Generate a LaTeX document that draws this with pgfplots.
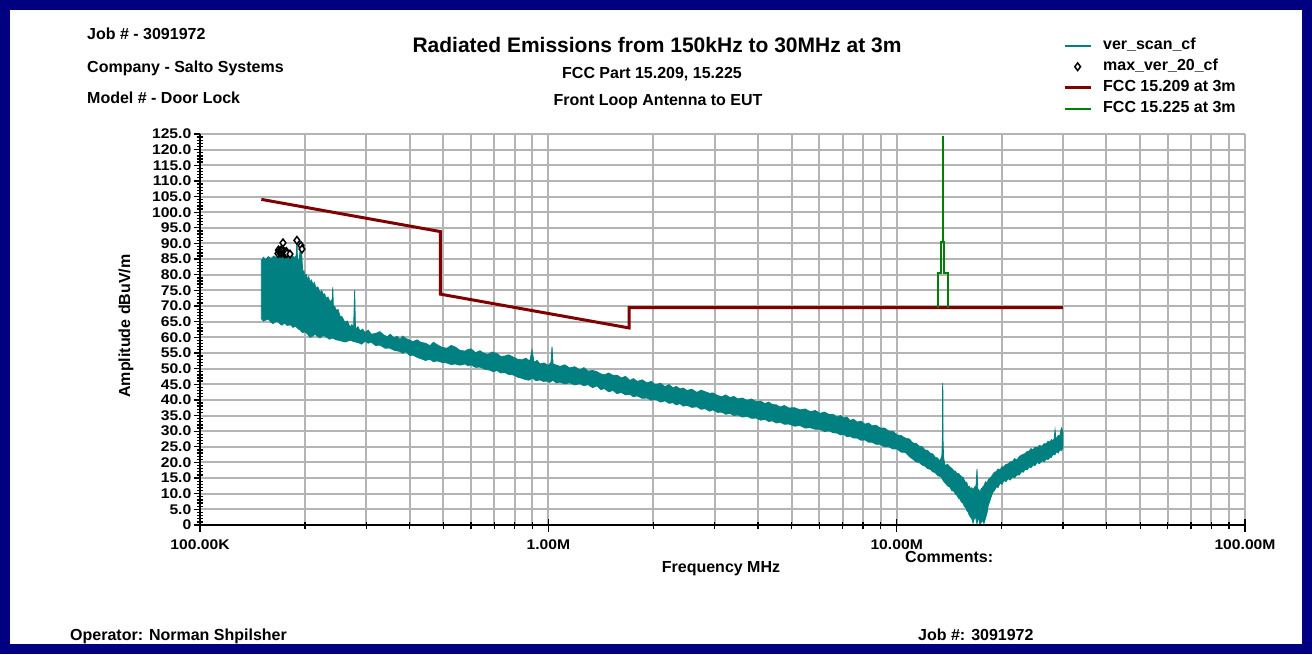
\documentclass[border=0pt]{standalone}
\usepackage{fontspec}
\setmainfont{Liberation Sans}
\newfontfamily\tickf[FakeStretch=1.12]{Liberation Sans}
\usepackage{pgfplots}
\pgfplotsset{compat=1.18}
\definecolor{scanteal}{RGB}{0,128,128}
\definecolor{limred}{RGB}{128,0,0}
\definecolor{limgreen}{RGB}{0,128,0}
\definecolor{framenavy}{RGB}{0,0,128}
\definecolor{gridgray}{RGB}{180,180,180}
\newcommand{\lbl}{\fontsize{16}{18}\selectfont\bfseries}

\begin{document}
\begin{tikzpicture}[x=1pt,y=1pt]
\useasboundingbox (0,0) rectangle (1312,654);
\draw[framenavy, line width=10pt] (5,5) rectangle (1307,649);

% header text
\node[anchor=base west, inner sep=0] at (87,614) {\lbl Job \# - 3091972};
\node[anchor=base west, inner sep=0] at (87,581) {\lbl Company - Salto Systems};
\node[anchor=base west, inner sep=0] at (87,550) {\lbl Model \# - Door Lock};
\node[anchor=base, inner sep=0] at (657,601.5) {\fontsize{21}{24}\selectfont\bfseries Radiated Emissions from 150kHz to 30MHz at 3m};
\node[anchor=base, inner sep=0] at (652,575) {\lbl FCC Part 15.209, 15.225};
\node[anchor=base, inner sep=0] at (658,548) {\lbl Front Loop Antenna to EUT};

\begin{axis}[
    at={(200pt,129pt)}, anchor=south west,
    scale only axis, width=1045pt, height=391pt,
    xmode=log, xmin=0.1, xmax=100, ymin=0, ymax=125,
    axis line style={draw=none},
    xtick pos=left, ytick pos=left,
    xtick={0.1,1,10,100},
    xticklabels={100.00K,1.00M,10.00M,100.00M},
    ytick={0,5,10,15,20,25,30,35,40,45,50,55,60,65,70,75,80,85,90,95,100,105,110,115,120,125},
    yticklabels={0,5.0,10.0,15.0,20.0,25.0,30.0,35.0,40.0,45.0,50.0,55.0,60.0,65.0,70.0,75.0,80.0,85.0,90.0,95.0,100.0,105.0,110.0,115.0,120.0,125.0},
    minor y tick num=4,
    tick align=center,
    major tick length=13pt, minor tick length=7pt,
    tick style={black, line width=1.3pt},
    xmajorgrids=true, xminorgrids=true, ymajorgrids=true,
    major grid style={gridgray, line width=2pt},
    minor grid style={gridgray, line width=2pt},
    tick label style={font=\fontsize{14}{14}\tickf\bfseries},
    yticklabel style={inner sep=1pt, xshift=-1pt},
    xticklabel style={inner sep=1pt, yshift=-7pt},
    legend image code/.code={\draw[mark repeat=2,mark phase=2,#1] plot coordinates {(0pt,0pt) (13pt,0pt) (26pt,0pt)};},
    legend cell align=left,
    legend style={at={(0.8258,1.248)}, anchor=north west, draw=none, fill=none,
        inner sep=0pt, row sep=4pt, column sep=10pt,
        font=\lbl, nodes={inner sep=1pt, text height=11.5pt, text depth=3.5pt}},
    after end axis/.code={
        \draw[black, line width=1.6pt] (rel axis cs:0,1) -- (rel axis cs:0,0) -- (rel axis cs:1,0);
    },
]
% horizontal grid lines every 5 dB (drawn as plain lines below the data)
\addplot[gridgray, line width=2pt, forget plot] coordinates {(0.1,5)(100,5)};
\addplot[gridgray, line width=2pt, forget plot] coordinates {(0.1,10)(100,10)};
\addplot[gridgray, line width=2pt, forget plot] coordinates {(0.1,15)(100,15)};
\addplot[gridgray, line width=2pt, forget plot] coordinates {(0.1,20)(100,20)};
\addplot[gridgray, line width=2pt, forget plot] coordinates {(0.1,25)(100,25)};
\addplot[gridgray, line width=2pt, forget plot] coordinates {(0.1,30)(100,30)};
\addplot[gridgray, line width=2pt, forget plot] coordinates {(0.1,35)(100,35)};
\addplot[gridgray, line width=2pt, forget plot] coordinates {(0.1,40)(100,40)};
\addplot[gridgray, line width=2pt, forget plot] coordinates {(0.1,45)(100,45)};
\addplot[gridgray, line width=2pt, forget plot] coordinates {(0.1,50)(100,50)};
\addplot[gridgray, line width=2pt, forget plot] coordinates {(0.1,55)(100,55)};
\addplot[gridgray, line width=2pt, forget plot] coordinates {(0.1,60)(100,60)};
\addplot[gridgray, line width=2pt, forget plot] coordinates {(0.1,65)(100,65)};
\addplot[gridgray, line width=2pt, forget plot] coordinates {(0.1,70)(100,70)};
\addplot[gridgray, line width=2pt, forget plot] coordinates {(0.1,75)(100,75)};
\addplot[gridgray, line width=2pt, forget plot] coordinates {(0.1,80)(100,80)};
\addplot[gridgray, line width=2pt, forget plot] coordinates {(0.1,85)(100,85)};
\addplot[gridgray, line width=2pt, forget plot] coordinates {(0.1,90)(100,90)};
\addplot[gridgray, line width=2pt, forget plot] coordinates {(0.1,95)(100,95)};
\addplot[gridgray, line width=2pt, forget plot] coordinates {(0.1,100)(100,100)};
\addplot[gridgray, line width=2pt, forget plot] coordinates {(0.1,105)(100,105)};
\addplot[gridgray, line width=2pt, forget plot] coordinates {(0.1,110)(100,110)};
\addplot[gridgray, line width=2pt, forget plot] coordinates {(0.1,115)(100,115)};
\addplot[gridgray, line width=2pt, forget plot] coordinates {(0.1,120)(100,120)};
\addplot[gridgray, line width=2pt, forget plot] coordinates {(0.1,125)(100,125)};
% ver_scan_cf: trace envelope, upper edge left to right, then lower edge right to left
\addplot[fill=scanteal, draw=scanteal, line width=0.8pt, forget plot] coordinates {
(0.1500,84.5)(0.1520,85.6)(0.1545,84.9)(0.1570,85.8)(0.1600,85.2)(0.1630,86.0)
(0.1660,85.4)(0.1690,86.3)(0.1720,85.7)(0.1750,86.5)(0.1780,85.9)(0.1810,86.6)
(0.1840,86.0)(0.1870,85.5)(0.1890,86.2)(0.1898,91.0)(0.1905,85.0)(0.1925,84.6)
(0.1945,89.3)(0.1955,88.5)(0.1965,84.0)
(0.1976,80.5)(0.1988,81.2)(0.2000,79.8)(0.2018,80.1)(0.2035,78.5)(0.2052,79.4)
(0.2069,77.6)(0.2090,78.3)(0.2110,76.8)(0.2130,77.5)(0.2150,75.9)(0.2180,76.1)
(0.2211,74.2)(0.2235,75.0)(0.2260,73.6)(0.2280,73.9)(0.2300,72.4)(0.2330,72.9)
(0.2362,71.3)(0.2380,71.8)(0.2395,70.5)(0.2405,76.0)(0.2415,70.0)(0.2438,69.8)
(0.2460,68.6)(0.2490,68.9)(0.2523,66.8)(0.2560,66.5)(0.2600,64.9)(0.2650,65.2)
(0.2696,63.2)(0.2730,64.1)(0.2760,62.8)(0.2780,75.0)(0.2795,62.5)(0.2840,63.4)
(0.2880,62.0)(0.2930,62.6)(0.2977,61.5)(0.3040,62.3)(0.3100,61.0)(0.3190,61.2)
(0.3286,61.8)(0.3370,60.7)(0.3450,60.2)(0.3520,61.0)(0.3600,59.8)(0.3680,60.3)
(0.3752,59.3)(0.3820,60.4)(0.3900,59.6)(0.4000,59.1)(0.4088,58.6)(0.4200,59.2)
(0.4300,58.4)(0.4440,58.1)(0.4574,57.3)(0.4680,58.4)(0.4800,57.6)(0.4950,56.8)
(0.5119,56.5)(0.5260,57.4)(0.5400,56.9)(0.5580,55.8)(0.5766,55.6)(0.5880,56.1)
(0.6000,56.3)(0.6180,55.1)(0.6367,55.7)(0.6530,54.9)(0.6700,54.5)(0.6900,55.3)
(0.7124,54.8)(0.7300,53.9)(0.7500,54.0)(0.7700,54.4)(0.7917,53.7)(0.8150,53.0)
(0.8400,52.8)(0.8620,53.3)(0.8850,52.4)(0.8977,56.0)(0.9100,52.0)(0.9280,52.6)
(0.9463,51.5)(0.9720,51.8)(1.0000,51.0)(1.0180,52.0)(1.0246,57.0)(1.0320,51.5)
(1.0550,51.1)(1.0803,50.7)(1.1150,51.2)(1.1500,50.2)(1.1900,50.6)(1.2329,49.6)
(1.2650,50.3)(1.3000,49.2)(1.3400,49.4)(1.3796,49.0)(1.4150,48.3)(1.4500,48.0)
(1.4900,48.6)(1.5336,47.8)(1.5750,47.9)(1.6200,47.0)(1.6650,47.5)(1.7156,46.2)
(1.7550,46.8)(1.8000,45.9)(1.8600,46.4)(1.9198,45.4)(1.9750,45.9)(2.0300,44.8)
(2.1000,45.3)(2.1627,44.2)(2.2200,44.9)(2.2800,43.8)(2.3300,44.3)(2.3877,43.5)
(2.4400,43.8)(2.5000,43.0)(2.5800,43.4)(2.6718,42.4)(2.7450,43.1)(2.8200,42.6)
(2.9000,42.1)(2.9699,42.2)(3.0600,41.4)(3.1500,41.0)(3.2300,41.6)(3.3225,40.7)
(3.4100,41.1)(3.5000,40.3)(3.6100,40.6)(3.7181,39.8)(3.8300,40.3)(3.9500,39.4)
(4.0700,39.6)(4.1889,38.8)(4.2900,39.3)(4.4000,38.5)(4.5100,38.4)(4.6259,37.7)
(4.7600,38.2)(4.9000,37.4)(5.0900,37.5)(5.2796,36.8)(5.4600,37.1)(5.6500,36.2)
(5.8400,36.6)(6.0255,35.7)(6.2100,36.1)(6.4000,35.3)(6.5700,35.4)(6.7420,34.5)
(6.9000,35.0)(7.0500,34.2)(7.2000,34.5)(7.3470,33.4)(7.5200,33.8)(7.7000,32.9)
(7.9000,33.2)(8.1130,32.2)(8.3000,32.6)(8.5000,31.7)(8.7300,31.9)(8.9580,31.0)
(9.2300,31.0)(9.5000,30.0)(9.7600,29.9)(10.023,28.8)(10.300,28.6)(10.600,27.7)
(10.870,27.5)(11.143,26.2)(11.370,26.1)(11.600,25.2)(11.830,25.0)(12.063,24.0)
(12.280,23.8)(12.500,22.9)(12.700,22.7)(12.885,21.7)(13.100,21.4)(13.300,20.4)
(13.480,22.0)(13.530,27.8)(13.553,45.3)(13.567,45.3)(13.590,27.0)(13.640,21.5)
(13.766,19.0)(14.000,19.4)(14.228,18.5)(14.400,18.1)(14.600,17.3)(14.750,17.2)
(14.902,16.4)(15.050,16.5)(15.200,15.9)(15.350,15.4)(15.505,15.3)(15.650,14.2)
(15.800,13.5)(15.900,13.6)(16.026,12.0)(16.150,12.4)(16.300,11.6)(16.430,11.9)
(16.564,11.2)(16.700,12.0)(16.900,12.6)(17.008,17.9)(17.100,11.5)(17.220,11.3)
(17.349,10.2)(17.470,11.6)(17.600,11.8)(17.700,12.3)(17.814,12.6)(18.000,13.8)
(18.171,13.4)(18.330,14.5)(18.500,15.0)(18.700,15.4)(18.907,16.2)(19.100,16.9)
(19.300,17.0)(19.550,17.9)(19.804,17.6)(20.050,18.6)(20.300,18.6)(20.600,19.4)
(20.880,19.5)(21.200,20.2)(21.500,20.3)(21.800,21.2)(22.160,20.8)(22.500,21.9)
(22.800,22.3)(23.100,22.6)(23.360,22.8)(23.700,23.5)(24.000,23.6)(24.300,24.4)
(24.630,24.0)(24.950,24.9)(25.300,24.7)(25.700,25.4)(26.140,25.2)(26.500,26.0)
(26.900,26.0)(27.200,26.8)(27.560,26.5)(27.800,27.3)(28.100,27.0)(28.300,27.4)
(28.490,30.4)(28.650,27.8)(28.800,27.8)(29.100,28.6)(29.400,28.5)(29.700,31.0)
(30.000,30.0)
(30.000,24.6)(29.700,23.8)(29.400,24.1)(29.100,23.0)(28.800,23.5)(28.450,22.4)
(28.100,22.6)(27.800,21.6)(27.560,21.7)(27.200,20.9)(26.900,21.2)(26.500,20.2)
(26.140,20.6)(25.700,19.6)(25.300,20.0)(24.950,19.0)(24.630,19.2)(24.300,18.3)
(24.000,18.6)(23.700,17.6)(23.360,17.8)(23.100,16.9)(22.800,17.0)(22.500,16.0)
(22.160,16.0)(21.800,15.1)(21.500,15.4)(21.200,14.4)(20.880,14.8)(20.600,13.9)
(20.300,14.2)(20.050,13.0)(19.804,13.4)(19.550,12.0)(19.300,12.2)(19.100,11.0)
(18.907,10.5)(18.700,9.2)(18.500,7.5)(18.330,6.4)(18.171,3.8)(17.814,0.5)
(17.600,1.5)(17.349,0.0)(17.150,2.8)(17.008,0.3)(16.800,3.0)(16.564,0.6)
(16.430,2.0)(16.300,2.5)(16.150,3.2)(16.026,4.2)(15.900,4.6)(15.800,5.5)
(15.650,5.9)(15.505,7.0)(15.350,7.3)(15.200,8.2)(15.050,8.6)(14.902,9.5)
(14.750,9.9)(14.600,10.8)(14.400,11.0)(14.228,12.1)(14.000,12.5)(13.766,13.5)
(13.600,14.2)(13.400,15.5)(13.150,15.7)(12.885,16.8)(12.700,17.0)(12.500,17.8)
(12.280,18.0)(12.063,18.8)(11.830,19.2)(11.600,20.0)(11.370,20.2)(11.143,21.0)
(10.870,21.9)(10.600,23.2)(10.300,23.3)(10.023,24.3)(9.760,24.3)(9.500,25.0)
(9.230,25.0)(8.958,25.8)(8.730,25.8)(8.500,26.5)(8.300,26.5)(8.113,27.2)
(7.900,27.1)(7.700,27.8)(7.520,27.8)(7.347,28.4)(7.200,28.2)(7.050,29.0)
(6.900,28.8)(6.742,29.4)(6.570,29.5)(6.400,30.1)(6.210,29.9)(6.025,30.6)
(5.840,30.6)(5.650,31.1)(5.460,31.0)(5.280,31.8)(5.090,31.6)(4.900,32.3)
(4.760,32.2)(4.626,32.9)(4.510,32.6)(4.400,33.3)(4.290,33.1)(4.189,33.8)
(4.070,33.5)(3.950,34.2)(3.830,34.1)(3.718,34.8)(3.610,34.5)(3.500,35.2)
(3.410,35.0)(3.322,35.7)(3.230,35.4)(3.150,36.1)(3.060,36.0)(2.970,36.8)
(2.900,36.4)(2.820,37.2)(2.745,37.0)(2.672,37.8)(2.580,37.6)(2.500,38.3)
(2.440,38.0)(2.388,38.8)(2.330,38.4)(2.280,39.1)(2.220,38.9)(2.163,39.7)
(2.100,39.3)(2.030,40.2)(1.975,39.9)(1.920,40.6)(1.860,40.5)(1.800,41.3)
(1.755,41.0)(1.716,41.8)(1.665,41.6)(1.620,42.4)(1.575,42.0)(1.534,43.0)
(1.490,42.6)(1.450,43.6)(1.415,43.3)(1.380,44.5)(1.340,43.9)(1.300,44.9)
(1.265,44.5)(1.233,45.2)(1.190,44.8)(1.150,45.5)(1.115,45.1)(1.080,45.7)
(1.055,45.4)(1.030,46.3)(1.010,45.6)(0.990,46.0)(0.968,45.9)(0.946,46.4)
(0.922,46.1)(0.900,47.0)(0.880,46.3)(0.860,46.5)(0.840,46.9)(0.820,47.2)
(0.806,47.6)(0.792,48.0)(0.770,48.1)(0.750,48.8)(0.730,48.6)(0.712,49.4)
(0.695,49.0)(0.680,49.5)(0.658,49.8)(0.637,50.5)(0.618,50.4)(0.600,51.2)
(0.588,50.9)(0.577,51.5)(0.558,51.1)(0.540,51.5)(0.526,51.3)(0.512,51.8)
(0.495,52.0)(0.480,52.5)(0.468,52.2)(0.457,53.0)(0.444,52.6)(0.430,53.2)
(0.420,53.6)(0.409,54.3)(0.400,54.2)(0.390,55.4)(0.382,54.9)(0.375,55.5)
(0.362,55.8)(0.350,56.6)(0.340,56.5)(0.329,57.5)(0.319,57.4)(0.310,58.5)
(0.304,58.1)(0.298,58.8)(0.291,57.8)(0.285,58.3)(0.277,58.6)(0.270,59.1)
(0.261,58.5)(0.252,59.0)(0.246,59.2)(0.240,59.8)(0.235,59.4)(0.230,60.2)
(0.226,60.6)(0.221,59.8)(0.217,60.4)(0.214,61.0)(0.210,60.3)(0.207,60.0)
(0.203,61.2)(0.200,61.8)(0.197,61.5)(0.194,62.3)(0.191,62.8)(0.188,63.6)
(0.185,63.2)(0.182,64.0)(0.178,63.8)(0.175,64.6)(0.172,63.9)(0.170,64.2)
(0.167,65.1)(0.165,65.0)(0.162,64.4)(0.160,64.8)(0.157,65.9)(0.155,65.6)
(0.152,65.2)(0.150,66.0)
} -- cycle;
\addlegendimage{scanteal, line width=2pt}
\addlegendentry{ver\_scan\_cf}
% max_ver_20_cf
\addplot[only marks, mark=diamond*, mark size=3.8pt,
    mark options={fill=white, draw=black, line width=1.5pt}] coordinates {
(0.1674,86.8)(0.1680,87.9)(0.1690,87.4)(0.1697,87.0)(0.1705,87.8)(0.1712,86.9)
(0.1720,87.3)(0.1725,88.0)(0.1731,90.2)(0.1735,87.6)(0.1743,87.0)(0.1750,86.7)
(0.1760,87.2)(0.1766,86.9)(0.1771,87.4)(0.1777,86.8)(0.1813,86.6)(0.1898,91.0)
(0.1950,89.3)(0.1963,88.2)
};
\addlegendentry{max\_ver\_20\_cf}
% FCC 15.209 at 3m
\addplot[limred, line width=3pt] coordinates {
(0.15,104.1)(0.49,93.8)(0.49,73.8)(1.705,63.0)(1.705,69.5)(30,69.5)
};
\addlegendentry{FCC 15.209 at 3m}
% FCC 15.225 at 3m
\addplot[limgreen, line width=2pt] coordinates {
(13.11,69.5)(13.11,80.5)(13.41,80.5)(13.41,90.5)(13.553,90.5)(13.553,124.0)
(13.567,124.0)(13.567,90.5)(13.71,90.5)(13.71,80.5)(14.01,80.5)(14.01,69.5)
};
\addlegendentry{FCC 15.225 at 3m}
\end{axis}

\node[rotate=90, inner sep=0] at (126,328) {\lbl Amplitude dBuV/m};
\node[inner sep=0] at (721,85) {\lbl Frequency MHz};
\node[anchor=base west, inner sep=0] at (905,92) {\lbl Comments:};
\node[anchor=base west, inner sep=0] at (70,14) {\lbl Operator: Norman Shpilsher};
\node[anchor=base west, inner sep=0] at (918,14) {\lbl Job \#: 3091972};
\end{tikzpicture}
\end{document}
